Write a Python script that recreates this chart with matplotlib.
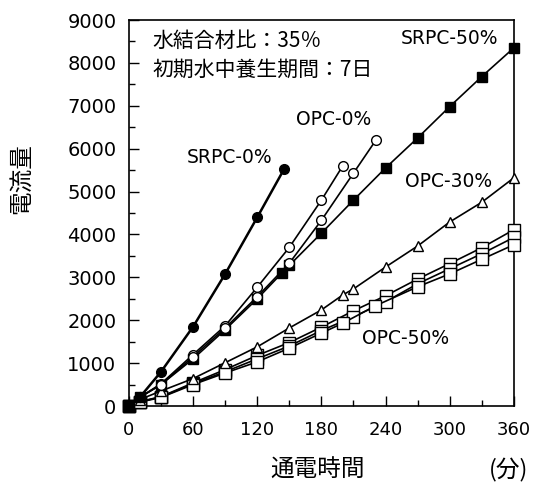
import matplotlib
matplotlib.use("Agg")
import matplotlib.pyplot as plt
from matplotlib.ticker import MultipleLocator

plt.rcParams['font.family'] = ['DejaVu Sans', 'Noto Sans CJK JP']
jp = ['Noto Sans CJK JP', 'DejaVu Sans']

# 通電時間(分) と 電流量
srpc0_t = [0, 10, 30, 60, 90, 120, 145]
srpc0_v = [0, 200, 800, 1850, 3080, 4400, 5520]

srpc50_t = [0, 10, 30, 60, 90, 120, 143, 150, 180, 210, 240, 270, 300, 330, 360]
srpc50_v = [0, 200, 500, 1100, 1780, 2500, 3100, 3280, 4030, 4800, 5550, 6250, 6980, 7680, 8350]

opc0a_t = [0, 10, 30, 60, 90, 120, 150, 180, 200]
opc0a_v = [0, 200, 520, 1200, 1870, 2770, 3700, 4800, 5600]
opc0b_t = [0, 10, 30, 60, 90, 120, 150, 180, 210, 231]
opc0b_v = [0, 200, 500, 1150, 1820, 2550, 3330, 4330, 5430, 6200]

opc30_t = [0, 10, 30, 60, 90, 120, 150, 180, 200, 210, 240, 270, 300, 330, 360]
opc30_v = [0, 150, 350, 640, 1010, 1380, 1820, 2240, 2590, 2730, 3240, 3730, 4290, 4750, 5320]

opc50a_t = [0, 10, 30, 60, 90, 120, 150, 180, 210, 240, 270, 300, 330, 360]
opc50a_v = [0, 100, 220, 540, 850, 1180, 1480, 1840, 2220, 2570, 2960, 3320, 3690, 4110]
opc50b_t = [0, 10, 30, 60, 90, 120, 150, 180, 210, 240, 270, 300, 330, 360]
opc50b_v = [0, 100, 210, 520, 800, 1100, 1400, 1760, 2080, 2430, 2850, 3200, 3550, 3930]
opc50c_t = [0, 10, 30, 60, 90, 120, 150, 180, 200, 230, 270, 300, 330, 360]
opc50c_v = [0, 90, 200, 500, 770, 1030, 1350, 1700, 1930, 2330, 2780, 3080, 3420, 3760]

fig = plt.figure(figsize=(5.33, 4.88), dpi=100)
ax = fig.add_axes([0.242, 0.168, 0.722, 0.791])

k = dict(color='black', lw=1.2, clip_on=False, zorder=3)
for t, v in [(opc50a_t, opc50a_v), (opc50b_t, opc50b_v), (opc50c_t, opc50c_v)]:
    ax.plot(t, v, marker='s', ms=8, mfc='white', mec='black', mew=1.0, **k)
ax.plot(opc30_t, opc30_v, marker='^', ms=7.5, mfc='white', mec='black', mew=1.0, **k)
ax.plot(srpc50_t, srpc50_v, marker='s', ms=7, mfc='black', mec='black', **k)
for t, v in [(opc0a_t, opc0a_v), (opc0b_t, opc0b_v)]:
    ax.plot(t, v, marker='o', ms=7, mfc='white', mec='black', mew=1.0, **k)
ax.plot(srpc0_t, srpc0_v, marker='o', ms=7, mfc='black', mec='black',
        color='black', lw=1.8, clip_on=False, zorder=3)

ax.set_xlim(0, 360)
ax.set_ylim(0, 9000)
ax.xaxis.set_major_locator(MultipleLocator(60))
ax.xaxis.set_minor_locator(MultipleLocator(30))
ax.yaxis.set_major_locator(MultipleLocator(1000))
ax.yaxis.set_minor_locator(MultipleLocator(500))
ax.tick_params(which='both', direction='in', width=1.0)
ax.tick_params(axis='y', labelsize=14)
ax.tick_params(axis='x', labelsize=13)
ax.tick_params(which='major', length=7)
ax.tick_params(axis='y', which='major', pad=9)
ax.tick_params(axis='x', which='major', pad=11)
ax.tick_params(which='minor', length=4)
for s in ax.spines.values():
    s.set_linewidth(1.2)

ax.text(0.06, 0.93, '水結合材比：35％', transform=ax.transAxes, fontsize=15, family=jp)
ax.text(0.06, 0.855, '初期水中養生期間：7日', transform=ax.transAxes, fontsize=15, family=jp)

ax.text(94, 5800, 'SRPC-0%', fontsize=13.5, ha='center', va='center')
ax.text(191, 6670, 'OPC-0%', fontsize=13.5, ha='center', va='center')
ax.text(300, 8580, 'SRPC-50%', fontsize=13.5, ha='center', va='center')
ax.text(299, 5245, 'OPC-30%', fontsize=13.5, ha='center', va='center')
ax.text(259, 1585, 'OPC-50%', fontsize=13.5, ha='center', va='center')

fig.text(0.04, 0.635, '電流量', rotation=90, fontsize=17, ha='center', va='center', family=jp)
fig.text(0.595, 0.037, '通電時間', fontsize=17, ha='center', va='center', family=jp)
fig.text(0.955, 0.037, '(分)', fontsize=17, ha='center', va='center', family=jp)

fig.savefig('out.png', dpi=100)
